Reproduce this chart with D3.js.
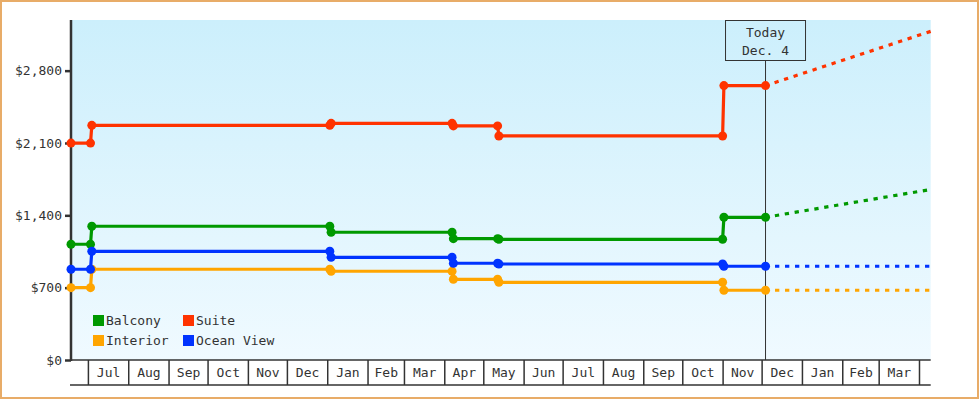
<!DOCTYPE html>
<html><head><meta charset="utf-8">
<script src="https://cdn.jsdelivr.net/npm/d3@7"></script>
<style>
html,body{margin:0;padding:0;background:#fff;}
svg{display:block;}
text{font-family:"DejaVu Sans Mono",monospace;font-size:13px;fill:#333;}
</style></head>
<body><svg id="chart" width="980" height="400"></svg>
<script>
// ---- data ----
const startDate = "2005-06-18";
const endDate = "2007-04-10";
const todayDate = "2006-12-04";
const todayLabel = ["Today", "Dec. 4"];
const obsDates = ["2005-06-18","2005-07-03","2005-07-04","2006-01-03","2006-01-04","2006-04-07","2006-04-08","2006-05-12","2006-05-13","2006-11-01","2006-11-02","2006-12-04"];
const seriesNames = ["Balcony","Suite","Interior","Ocean View"];
const seriesColors = ["#009900","#FF3300","#FFA500","#0033FF"];
const balcony   = [1120,1120,1294,1294,1236,1236,1174,1174,1168,1168,1381,1381];
const suite     = [2099,2099,2271,2271,2290,2290,2265,2265,2168,2168,2655,2655];
const interior  = [700,700,878,878,859,859,781,781,752,752,675,675];
const oceanView = [878,878,1052,1052,994,994,936,936,929,929,907,907];
const projected = [1650,3180,675,907]; // values at endDate
const yTicks = [0,700,1400,2100,2800];
const yMax = 3290;

const parse = d3.utcParse("%Y-%m-%d");
const svg = d3.select("#chart");
const L = 71, R = 930.7, T = 20, B = 360, B2 = 385;

const x = d3.scaleUtc().domain([parse(startDate), parse(endDate)]).range([L, R]);
const y = d3.scaleLinear().domain([0, yMax]).range([B, T]);

// border
svg.append("rect").attr("x",1).attr("y",1).attr("width",977).attr("height",397)
  .attr("fill","#fff").attr("stroke","#E8AC68").attr("stroke-width",2);

// gradient background
const defs = svg.append("defs");
const g = defs.append("linearGradient").attr("id","bg").attr("x1",0).attr("y1",0).attr("x2",0).attr("y2",1);
g.append("stop").attr("offset","0%").attr("stop-color","#CCEFFC");
g.append("stop").attr("offset","100%").attr("stop-color","#F0FAFF");
svg.append("rect").attr("x",L).attr("y",T).attr("width",R-L).attr("height",B-T).attr("fill","url(#bg)");

// x axis month boundaries
const months = d3.utcMonth.range(d3.utcMonth.ceil(x.domain()[0]), x.domain()[1]);
const xb = svg.append("g").attr("transform",`translate(0,${B})`)
  .call(d3.axisBottom(x).tickValues(months).tickSize(B2-B).tickSizeOuter(0).tickFormat(""));
xb.select(".domain").remove();
xb.selectAll(".tick line").attr("stroke","#333").attr("stroke-width",1.5);
const fullMonths = months.filter(m => d3.utcMonth.offset(m,1) <= x.domain()[1]);
const mids = fullMonths.map(m => new Date((+m + +d3.utcMonth.offset(m,1))/2));
const xl = svg.append("g").attr("transform",`translate(0,${B})`)
  .call(d3.axisBottom(x).tickValues(mids).tickSize(0).tickPadding(8).tickFormat(d3.utcFormat("%b")));
xl.select(".domain").remove();
xl.selectAll("text").attr("font-size",null).attr("font-family",null).attr("fill","#111");
svg.append("line").attr("x1",70).attr("x2",R).attr("y1",B).attr("y2",B).attr("stroke","#333").attr("stroke-width",1.5);
svg.append("line").attr("x1",70).attr("x2",R).attr("y1",B2).attr("y2",B2).attr("stroke","#333").attr("stroke-width",1.5);

// y axis
const ya = svg.append("g").attr("transform",`translate(${L},0)`)
  .call(d3.axisLeft(y).tickValues(yTicks).tickSize(6).tickPadding(3).tickFormat(d3.format("$,")));
ya.select(".domain").remove();
ya.selectAll(".tick line").attr("stroke","#333").attr("stroke-width",2.5);
ya.selectAll("text").attr("font-size",null).attr("font-family",null).attr("fill","#333");
svg.append("line").attr("x1",L).attr("x2",L).attr("y1",T).attr("y2",B+1).attr("stroke","#333").attr("stroke-width",2.5);

// today marker
const tx = x(parse(todayDate));
svg.append("line").attr("x1",tx).attr("x2",tx).attr("y1",T+40).attr("y2",B).attr("stroke","#333").attr("stroke-width",1);
svg.append("rect").attr("x",tx-40).attr("y",T+0.5).attr("width",80).attr("height",40).attr("fill","none").attr("stroke","#333").attr("stroke-width",1);
svg.append("text").attr("x",tx).attr("y",T+17).attr("text-anchor","middle").text(todayLabel[0]);
svg.append("text").attr("x",tx).attr("y",T+35).attr("text-anchor","middle").text(todayLabel[1]);

// series
const allValues = [balcony, suite, interior, oceanView];
const line = d3.line().x(d => x(d[0])).y(d => y(d[1]));
const dates = obsDates.map(parse);
allValues.forEach((vals, i) => {
  const pts = dates.map((d, j) => [d, vals[j]]);
  const col = seriesColors[i];
  const last = pts[pts.length-1];
  svg.append("path").datum([last, [parse(endDate), projected[i]]]).attr("d", line)
    .attr("fill","none").attr("stroke",col).attr("stroke-width",3.2)
    .attr("stroke-dasharray","4.3,5.7").attr("stroke-dashoffset",0.5);
  svg.append("path").datum(pts).attr("d", line)
    .attr("fill","none").attr("stroke",col).attr("stroke-width",3.2);
  svg.append("g").selectAll("circle").data(pts).join("circle")
    .attr("cx", d => x(d[0])).attr("cy", d => y(d[1])).attr("r", 4.5).attr("fill", col);
});

// legend
const lg = svg.append("g");
seriesNames.forEach((n, i) => {
  const col = i % 2, row = Math.floor(i / 2);
  const lx = 93 + col * 90, ly = 315 + row * 20;
  lg.append("rect").attr("x",lx).attr("y",ly).attr("width",11).attr("height",11).attr("fill",seriesColors[i]);
  lg.append("text").attr("x",lx+13).attr("y",ly+10).text(n);
});
</script></body></html>
